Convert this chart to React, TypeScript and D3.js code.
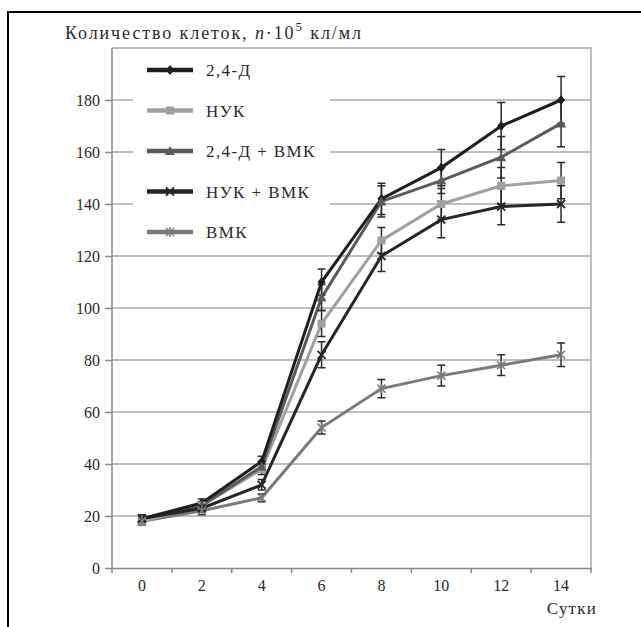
import React, { useEffect, useRef } from 'react';
import * as d3 from 'd3';

const days = ['0', '2', '4', '6', '8', '10', '12', '14'];
const yTicks = [0, 20, 40, 60, 80, 100, 120, 140, 160, 180];

const d24 = [19, 25, 41, 110, 142, 154, 170, 180];
const d24Err = [1.5, 1.5, 2, 5, 6, 7, 9, 9];
const nuk = [18, 24, 38, 94, 126, 140, 147, 149];
const nukErr = [1.5, 1.5, 2, 5, 5, 6, 7, 7];
const d24Vmk = [19, 24, 39, 104, 141, 149, 158, 171];
const d24VmkErr = [1.5, 1.5, 2, 5, 6, 5, 8, 9];
const nukVmk = [19, 23, 32, 82, 120, 134, 139, 140];
const nukVmkErr = [1.5, 1.5, 2, 5, 6, 7, 7, 7];
const vmk = [18, 22, 27, 54, 69, 74, 78, 82];
const vmkErr = [1, 1.5, 1.5, 2.5, 3.5, 4, 4, 4.5];

const seriesNames = ['2,4-Д', 'НУК', '2,4-Д + ВМК', 'НУК + ВМК', 'ВМК'];

const App = () => {
  const ref = useRef<SVGSVGElement>(null);

  useEffect(() => {
    const svg = d3.select(ref.current);
    svg.selectAll('*').remove();
    const font = 'Liberation Serif, DejaVu Serif, serif';

    const left = 112, right = 591, top = 48, bottom = 568;
    const x = d3.scaleBand().domain(days).range([left, right]);
    const y = d3.scaleLinear().domain([0, 200]).range([bottom, top]);

    // outer frame (top + left)
    svg.append('line').attr('x1', 7).attr('x2', 641).attr('y1', 12).attr('y2', 12)
      .attr('stroke', '#000').attr('stroke-width', 2);
    svg.append('line').attr('x1', 8).attr('x2', 8).attr('y1', 11).attr('y2', 627)
      .attr('stroke', '#000').attr('stroke-width', 2);

    // gridlines
    svg.append('g').selectAll('line')
      .data(yTicks.filter(d => d > 0))
      .enter().append('line')
      .attr('x1', left).attr('x2', right)
      .attr('y1', d => y(d)).attr('y2', d => y(d))
      .attr('stroke', '#aaa').attr('stroke-width', 1.5);

    // plot border top / right
    svg.append('path')
      .attr('d', `M${left},${top}H${right}V${bottom}`)
      .attr('fill', 'none').attr('stroke', '#aaa').attr('stroke-width', 1.5);

    // y axis
    const yAxis = svg.append('g')
      .attr('transform', `translate(${left},0)`)
      .call(d3.axisLeft(y).tickValues(yTicks).tickSize(7).tickPadding(5).tickFormat(d3.format('d')));
    yAxis.select('.domain').attr('stroke', '#888').attr('stroke-width', 1.5).attr('d', `M0,${top}V${bottom}`);
    yAxis.selectAll('line').attr('stroke', '#888').attr('stroke-width', 1.5);
    yAxis.selectAll('text').attr('font-family', font).attr('font-size', 16).attr('fill', '#2a2a2a');

    // x axis
    const xAxis = svg.append('g')
      .attr('transform', `translate(0,${bottom})`)
      .call(d3.axisBottom(x).tickSize(0).tickPadding(12));
    xAxis.select('.domain').attr('stroke', '#888').attr('stroke-width', 1.5);
    xAxis.selectAll('text').attr('font-family', font).attr('font-size', 16).attr('fill', '#2a2a2a');
    xAxis.selectAll('.bound')
      .data(days.concat(['end']))
      .enter().append('line')
      .attr('x1', (d, i) => left + i * x.bandwidth())
      .attr('x2', (d, i) => left + i * x.bandwidth())
      .attr('y1', 0).attr('y2', 5)
      .attr('stroke', '#888').attr('stroke-width', 1.5);

    // titles
    const title = svg.append('text').attr('x', 65).attr('y', 39)
      .attr('font-family', font).attr('font-size', 18).attr('letter-spacing', 1.9)
      .attr('fill', '#2a2a2a');
    title.append('tspan').text('Количество клеток, ');
    title.append('tspan').attr('font-style', 'italic').text('n');
    title.append('tspan').text('·10');
    title.append('tspan').attr('font-size', 13).attr('dy', -8).text('5');
    title.append('tspan').attr('dy', 8).text(' кл/мл');

    svg.append('text').attr('x', 597).attr('y', 614).attr('text-anchor', 'end')
      .attr('font-family', font).attr('font-size', 17).attr('letter-spacing', 1.2)
      .attr('fill', '#2a2a2a').text('Сутки');

    // legend background
    svg.append('rect').attr('x', 133).attr('y', 52).attr('width', 197).attr('height', 196)
      .attr('fill', '#fff');

    const series = [
      { name: seriesNames[0], values: d24, err: d24Err, color: '#1e1e1e', marker: 'diamond' },
      { name: seriesNames[1], values: nuk, err: nukErr, color: '#a0a0a0', marker: 'square' },
      { name: seriesNames[2], values: d24Vmk, err: d24VmkErr, color: '#5a5a5a', marker: 'triangle' },
      { name: seriesNames[3], values: nukVmk, err: nukVmkErr, color: '#262626', marker: 'cross' },
      { name: seriesNames[4], values: vmk, err: vmkErr, color: '#7a7a7a', marker: 'star' },
    ];

    const cx = (i: number) => (x(days[i]) as number) + x.bandwidth() / 2;

    const drawMarker = (g: any, type: string, px: number, py: number, color: string) => {
      if (type === 'diamond') {
        g.append('path').attr('d', `M${px},${py - 5}L${px + 4},${py}L${px},${py + 5}L${px - 4},${py}Z`).attr('fill', color);
      } else if (type === 'square') {
        g.append('rect').attr('x', px - 4).attr('y', py - 4).attr('width', 8).attr('height', 8).attr('fill', color);
      } else if (type === 'triangle') {
        g.append('path').attr('d', `M${px},${py - 5}L${px + 5},${py + 4}L${px - 5},${py + 4}Z`).attr('fill', color);
      } else if (type === 'cross') {
        g.append('path').attr('d', `M${px - 4},${py - 4}L${px + 4},${py + 4}M${px - 4},${py + 4}L${px + 4},${py - 4}`)
          .attr('stroke', color).attr('stroke-width', 1.8);
      } else {
        g.append('path').attr('d', `M${px - 4},${py - 4}L${px + 4},${py + 4}M${px - 4},${py + 4}L${px + 4},${py - 4}M${px},${py - 5}V${py + 5}`)
          .attr('stroke', color).attr('stroke-width', 1.5);
      }
    };

    const line = d3.line<number>().x((d, i) => cx(i)).y(d => y(d));

    // lines drawn from back to front
    const order = [4, 1, 2, 3, 0];
    order.forEach(k => {
      const s = series[k];
      svg.append('path').datum(s.values).attr('d', line)
        .attr('fill', 'none').attr('stroke', s.color).attr('stroke-width', 3);
    });

    // error bars
    series.forEach(s => {
      const g = svg.append('g');
      s.values.forEach((v, i) => {
        const px = cx(i);
        const y1 = y(v + s.err[i]);
        const y2 = y(v - s.err[i]);
        g.append('path')
          .attr('d', `M${px},${y1}V${y2}M${px - 4},${y1}H${px + 4}M${px - 4},${y2}H${px + 4}`)
          .attr('stroke', '#2a2a2a').attr('stroke-width', 1.5).attr('fill', 'none');
      });
    });

    // markers
    series.forEach(s => {
      const g = svg.append('g');
      s.values.forEach((v, i) => drawMarker(g, s.marker, cx(i), y(v), s.color));
    });

    // legend
    const lg = svg.append('g');
    series.forEach((s, i) => {
      const ly = 70 + i * 40.5;
      lg.append('line').attr('x1', 147).attr('x2', 193).attr('y1', ly).attr('y2', ly)
        .attr('stroke', s.color).attr('stroke-width', 4.5);
      drawMarker(lg, s.marker, 170, ly, s.color);
      lg.append('text').attr('x', 206).attr('y', ly + 6)
        .attr('font-family', font).attr('font-size', 17).attr('letter-spacing', 1.4)
        .attr('fill', '#2a2a2a').text(s.name);
    });
  }, []);

  return (
    <svg ref={ref} width={641} height={627}
      style={{ position: 'absolute', left: 0, top: 0, background: '#fff' }} />
  );
};

export default App;
